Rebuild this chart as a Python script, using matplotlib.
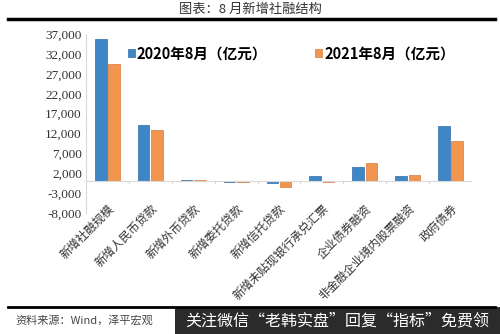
import matplotlib
matplotlib.use("Agg")
import matplotlib.pyplot as plt
from matplotlib.patches import Rectangle
import numpy as np

plt.rcParams['font.family'] = ['Noto Sans CJK SC', 'DejaVu Sans']

categories = ["新增社融规模", "新增人民币贷款", "新增外币贷款", "新增委托贷款", "新增信托贷款",
              "新增未贴现银行承兑汇票", "企业债券融资", "非金融企业境内股票融资", "政府债券"]
v2020 = [35853, 14200, 250, -200, -370, 1340, 3700, 1210, 13800]
v2021 = [29600, 12800, 260, -145, -1420, -150, 4610, 1470, 10080]
series_names = ["2020年8月（亿元）", "2021年8月（亿元）"]
yticks = [-8000, -3000, 2000, 7000, 12000, 17000, 22000, 27000, 32000, 37000]

BLUE, ORANGE = "#3f86c6", "#f2954f"

fig = plt.figure(figsize=(5.0, 3.34), dpi=100)
ax = fig.add_axes([0.172, 0.362, 0.772, 0.536])

x = np.arange(len(categories))
bw = 0.27
ax.bar(x - bw / 2 - 0.02, v2020, bw, color=BLUE, edgecolor="#2e6da8", lw=0.5, label=series_names[0])
ax.bar(x + bw / 2 + 0.02, v2021, bw, color=ORANGE, edgecolor="#d9793a", lw=0.5, label=series_names[1])

ax.set_xlim(-0.5, len(categories) - 0.5)
ax.set_ylim(-8000, 37000)
ax.set_yticks(yticks)
ax.set_yticklabels([f"{v:,}" for v in yticks], family="Liberation Serif", fontsize=9.5,
                   color="#333333")
ax.set_xticks(x)
ax.set_xticklabels(categories, rotation=45, ha="right", rotation_mode="anchor", fontsize=8.5,
                   color="#333333")
ax.tick_params(axis="x", length=0, pad=-8)
ax.tick_params(axis="y", length=0, pad=3)
for s in ["top", "right", "bottom"]:
    ax.spines[s].set_visible(False)
ax.spines["left"].set_color("#d9d9d9")
ax.axhline(0, color="#d9d9d9", lw=0.8)
# category separators on the zero axis
for b in np.arange(0.5, len(categories) - 0.5, 1.0):
    ax.plot([b, b], [0, -500], color="#d9d9d9", lw=0.8)

ax.legend(loc="upper left", bbox_to_anchor=(0.075, 1.01), ncol=2, frameon=False,
          handlelength=0.45, handleheight=0.45, handletextpad=0.15, columnspacing=3.3,
          prop={"size": 10.5, "weight": "bold"})

fig.text(0.5, 0.972, "图表：8 月新增社融结构", ha="center", va="center", fontsize=9.5, color="#333333")
fig.add_artist(plt.Line2D([0.015, 0.99], [0.943, 0.943], color="black", lw=2.5))
fig.add_artist(plt.Line2D([0.015, 0.99], [0.081, 0.081], color="black", lw=2.0))
fig.text(0.03, 0.04, "资料来源：Wind，泽平宏观", ha="left", va="center", fontsize=8,
         style="italic", color="#444444")
fig.add_artist(Rectangle((0.35, 0.0), 0.65, 0.08, transform=fig.transFigure,
                         facecolor="#2b2b2b", edgecolor="none"))
fig.text(0.37, 0.04, "关注微信“老韩实盘”回复“指标”免费领", ha="left", va="center",
         fontsize=11.5, color="white")

fig.savefig("out.png", dpi=100, facecolor="white")
